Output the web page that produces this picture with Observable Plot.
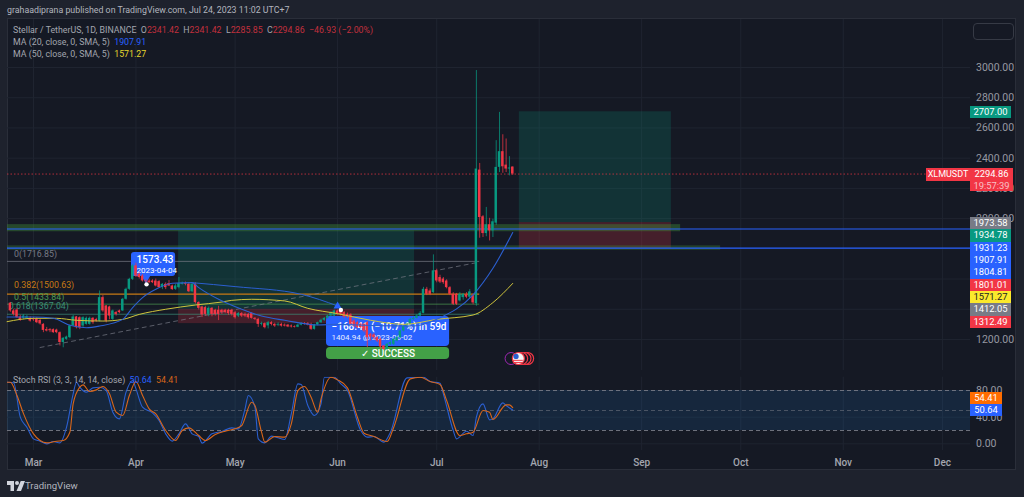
<!DOCTYPE html>
<html>
<head>
<meta charset="utf-8">
<script src="https://cdn.jsdelivr.net/npm/d3@7"></script>
<script src="https://cdn.jsdelivr.net/npm/@observablehq/plot@0.6"></script>
<style>
html,body{margin:0;padding:0;background:#1e222d;}
#page{position:relative;width:1024px;height:497px;overflow:hidden;background:#1e222d;font-family:Roboto,sans-serif;color:#a3a6af;}
#panel{position:absolute;left:7px;top:18px;width:1009px;height:452px;background:#151924;border:1px solid #2a2e39;box-sizing:border-box;}
#main,#stoch{position:absolute;left:0;}
#main{top:0;}#stoch{top:370px;}
.t{position:absolute;white-space:nowrap;}
.r{color:#c2303d}
.tag{position:absolute;left:970px;width:41px;height:12.35px;line-height:12.35px;text-align:center;font-size:9.4px;color:#fff;}
</style>
</head>
<body>
<div id="page">
<div id="panel"></div>
<div id="main"></div>
<div id="stoch"></div>
<div class="t" style="left:7px;top:5px;font-size:8.8px;color:#b2b5be">grahaadiprana published on TradingView.com, Jul 24, 2023 11:02 UTC+7</div>
<div class="t" style="left:13px;top:25px;font-size:8.8px">Stellar / TetherUS, 1D, BINANCE &nbsp;O<span class="r">2341.42</span> &nbsp;H<span class="r">2341.42</span> &nbsp;L<span class="r">2285.85</span> &nbsp;C<span class="r">2294.86</span> &nbsp;<span class="r">−46.93 (−2.00%)</span></div>
<div class="t" style="left:13px;top:37px;font-size:8.8px">MA (20, close, 0, SMA, 5) &nbsp;<span style="color:#2962ff">1907.91</span></div>
<div class="t" style="left:13px;top:49px;font-size:8.8px">MA (50, close, 0, SMA, 5) &nbsp;<span style="color:#e5d82e">1571.27</span></div>
<div class="t" style="left:13px;top:375px;font-size:8.8px">Stoch RSI (3, 3, 14, 14, close) &nbsp;<span style="color:#2962ff">50.64</span> &nbsp;<span style="color:#d9661a">54.41</span></div>
<div style="position:absolute;left:973px;top:23px;width:41px;height:17px;border:1px solid #363a45;border-radius:4px;box-sizing:border-box;"></div>
<div id="tags"></div>
<div class="t" style="left:926px;top:168px;width:44px;height:13px;line-height:13px;background:#f23645;color:#fff;font-size:9px;text-align:center;">XLMUSDT</div>
<div class="tag" style="top:168px;background:#f23645;height:23px;width:43px;line-height:11.5px;">2294.86<br><span style="color:#f8c0c5;">19:57:39</span></div>
<div class="tag" style="top:106px;background:#089981;">2707.00</div>
<div class="tag" style="top:392px;width:32px;height:12px;line-height:12px;background:#ff6d00;">54.41</div>
<div class="tag" style="top:404px;width:32px;height:12px;line-height:12px;background:#2962ff;">50.64</div>
<svg style="position:absolute;left:7px;top:480px" width="18" height="12" viewBox="0 0 36 24"><path fill="#d1d4dc" d="M14 2H0v8h7v12h7zM28 22H19L27.500 2H36z"/><circle cx="20" cy="6" r="4" fill="#d1d4dc"/></svg>
<div class="t" style="left:25px;top:480px;font-size:9.6px;color:#b2b5be">TradingView</div>
</div>
<script>
// Daily candles from 2023-02-22 to 2023-07-24
const opens = [1440,1389,1395,1349,1340,1340,1340,1335,1335,1326,1300,1265,1265,1265,1262,1245,1180,1201,1212,1290,1349,1344,1289,1300,1300,1340,1332,1322,1477,1422,1415,1333,1378,1389,1389,1466,1532,1598,1687,1632,1620,1587,1587,1587,1587,1583,1543,1565,1570,1554,1532,1543,1565,1570,1565,1516,1565,1444,1415,1411,1366,1406,1393,1393,1393,1393,1393,1393,1377,1355,1371,1366,1366,1371,1340,1333,1300,1305,1290,1311,1300,1295,1300,1295,1295,1289,1285,1281,1295,1305,1305,1300,1267,1296,1311,1327,1340,1355,1355,1389,1389,1378,1366,1363,1322,1311,1300,1300,1311,1234,1230,1212,1201,1157,1134,1168,1168,1190,1212,1256,1289,1300,1333,1340,1355,1373,1532,1521,1510,1654,1610,1600,1587,1543,1499,1499,1455,1477,1495,1480,1490,1437,2321,2012,1901,1959,1919,1970,2339,2443,2354,2328,2341.42];
const closes = [1389,1366,1344,1327,1355,1350,1322,1330,1311,1303,1260,1256,1258,1245,1245,1180,1208,1216,1290,1349,1278,1278,1344,1340,1340,1311,1322,1477,1389,1322,1355,1389,1366,1378,1466,1532,1598,1687,1620,1610,1587,1583,1576,1576,1554,1543,1565,1543,1554,1530,1554,1570,1570,1565,1516,1565,1444,1406,1362,1366,1406,1366,1366,1366,1378,1378,1371,1366,1344,1371,1355,1355,1344,1340,1333,1300,1305,1278,1311,1300,1289,1300,1289,1289,1283,1283,1281,1295,1305,1300,1296,1267,1296,1311,1327,1340,1355,1378,1389,1366,1366,1349,1349,1300,1289,1278,1278,1256,1212,1216,1212,1190,1150,1134,1168,1180,1201,1212,1256,1289,1300,1333,1340,1355,1373,1532,1499,1499,1654,1587,1580,1576,1543,1499,1433,1433,1499,1499,1480,1515,1442,2328,2007,1901,1959,1919,1979,2339,2443,2343,2328,2335,2294.86];
const highs = [1445,1400,1405,1360,1365,1360,1350,1345,1345,1335,1305,1280,1272,1270,1268,1250,1212,1222,1296,1360,1352,1350,1350,1348,1348,1345,1340,1521,1490,1425,1420,1395,1385,1395,1472,1540,1605,1695,1705,1640,1630,1595,1600,1595,1600,1590,1570,1575,1590,1560,1565,1610,1580,1580,1575,1575,1575,1450,1420,1420,1415,1412,1400,1420,1400,1400,1400,1400,1385,1378,1378,1375,1372,1378,1345,1340,1315,1310,1320,1318,1308,1310,1308,1303,1300,1296,1290,1302,1312,1312,1312,1308,1300,1315,1335,1345,1360,1385,1395,1395,1405,1385,1375,1370,1330,1320,1308,1305,1318,1240,1238,1218,1208,1160,1175,1190,1205,1218,1260,1295,1308,1340,1350,1365,1385,1545,1545,1535,1760,1665,1625,1610,1595,1550,1510,1505,1510,1505,1510,1530,1500,2980,2365,2020,2074,2002,1996,2516,2703,2555,2527,2410,2341.42];
const lows = [1380,1355,1340,1320,1330,1335,1315,1320,1305,1295,1245,1250,1245,1240,1238,1157,1145,1195,1205,1285,1270,1265,1280,1295,1295,1300,1315,1316,1380,1310,1330,1325,1355,1370,1385,1460,1525,1590,1610,1600,1580,1573,1570,1570,1548,1538,1530,1530,1550,1525,1525,1535,1560,1555,1510,1510,1435,1395,1345,1355,1350,1350,1355,1325,1365,1370,1360,1355,1335,1345,1345,1345,1335,1335,1325,1280,1290,1270,1270,1290,1280,1285,1282,1283,1278,1276,1276,1278,1290,1295,1290,1260,1262,1290,1305,1320,1335,1350,1350,1360,1355,1340,1340,1290,1280,1270,1272,1245,1146,1190,1195,1180,1135,1128,1128,1160,1160,1185,1205,1250,1280,1295,1325,1335,1350,1370,1490,1490,1505,1575,1570,1565,1535,1490,1425,1425,1448,1460,1470,1470,1430,1420,1870,1875,1880,1852,1875,1955,2305,2300,2305,2283,2285.85];

const ma20Days = [-1,7,13,18,23,27,34,37,40,44,49,55,57,63,70,76,83,93,99,110,122,130,140,146,152];
const ma20Values = [1349,1349,1340,1294,1278,1289,1333,1411,1477,1532,1572,1576,1543,1466,1400,1355,1327,1296,1300,1292,1289,1344,1495,1671,1907.91];
const ma50Days = [-1,7,14,20,28,34,39,47,56,64,67,73,83,90,99,109,119,129,140,146,152];
const ma50Values = [1318,1340,1340,1327,1322,1333,1366,1400,1428,1448,1459,1466,1455,1406,1371,1327,1300,1333,1362,1444,1571.27];

const stochKDays = [-1,1,3,5,7,9,11,13,15,17,19,20,21,23,25,27,29,31,33,35,37,38,40,43,45,47,49,51,53,55,57,58,61,64,67,69,71,72,74,75,77,79,83,85,87,88,90,92,94,95,98,100,102,106,108,110,113,115,120,125,127,130,131,134,135,138,140,141,143,145,146,149,150,152];
const stochK = [92.5,91.5,40,25,7.5,4,0,3.5,1.5,25,75,92.5,85,77.5,84,85,80,47.5,37.5,77.5,95,82.5,55,46.5,35,15,4,15,30,15,11,1,15,18.5,24,22.5,52.5,72.5,55,7.5,1.5,11.5,6.5,45,90,89,57.5,42.5,60,100,100,90,80,20,10,11,2.5,17.5,99,100,93.5,91,75,20,7.5,19,12.5,40,60,36,37.5,61.5,57.5,50.64];
const stochDDays = [-1,0,2,4,7,9,11,14,16,18,19,21,22,24,26,28,30,32,34,36,38,40,42,44,47,50,52,54,57,59,62,65,68,70,73,74,76,77,80,83,85,87,89,91,93,94,97,99,102,105,107,110,114,116,121,124,127,130,132,136,138,140,143,145,146,150,151,152];
const stochD = [92.5,92.5,72.5,45,15,5,1.5,4,5,17.5,60,85,88.5,78.5,81,86,75,47.5,42.5,72.5,93.5,72.5,52.5,45,20,5,20,24,12.5,5,14,19,22.5,27.5,62.5,57.5,17.5,2.5,11,10,30,80,86,70,47.5,67.5,100,96,84,40,16,11,3.5,25,97.5,100,93.5,89,65,12.5,15,17.5,50,47.5,36.5,58.5,58.5,54.41];

const priceGrid = [3000,2800,2600,2400,2200,2000,1800,1600,1400,1200];
const priceTicks = [3000,2800,2600,2400,2200,2000,1200];
const stochTicks = [80,40,0];
const months = ["2023-03-01","2023-04-01","2023-05-01","2023-06-01","2023-07-01","2023-08-01","2023-09-01","2023-10-01","2023-11-01","2023-12-01"];
const tagValues = ["1973.58","1934.78","1931.23","1907.91","1804.81","1801.01","1571.27","1412.05","1312.49"];
const tagColors = ["#787b86","#089981","#2962ff","#2962ff","#2962ff","#f23645","#fbe92c","#787b86","#f23645"];

const fibLabels = ["0(1716.85)","0.382(1500.63)","0.5(1433.84)","0.618(1367.04)"];
const fibPrices = [1716.85,1500.63,1433.84,1367.04];
const fibColors = ["#787b86","#c77a14","#4c9a50","#3b8f78"];
const fibLabelDays = [1.1,1.1,1.1,-0.5];
const fibLabelPrices = [1765,1557,1483,1420];

const F = "Roboto, sans-serif";
const day = i => new Date(Date.UTC(2023,1,22) + i*864e5);
const xDomain = [day(-0.867), day(290.5)];
const GREEN = "#089981", RED = "#f23645", BLUE = "#2962ff", YEL = "#cfc43c";
const candles = closes.map((c,i)=>({i,o:opens[i],c,h:highs[i],l:lows[i],col:c>=opens[i]?GREEN:RED}));
const ma20 = ma20Days.map((d,k)=>({d:day(d),v:ma20Values[k]}));
const ma50 = ma50Days.map((d,k)=>({d:day(d),v:ma50Values[k]}));
const arrowPath = [[55,1576],[68,1550],[88,1499],[99,1422]].map(([d,v])=>({d:day(d),v}));
const trend = [[9,1147],[141.2,1709]].map(([d,v])=>({d:day(d),v}));
const monthDates = months.map(m=>new Date(m));

const hline = (v,stroke,opt={}) => Plot.ruleY([v],{x1:day(-0.867),x2:opt.to??day(290.5),stroke,strokeWidth:opt.w??1,strokeDasharray:opt.dash,strokeOpacity:opt.op??1});
const box = (a,b,p,q,fill,op=1,rx=0) => Plot.rect([0],{x1:day(a),x2:day(b),y1:p,y2:q,fill,fillOpacity:op,rx});
const label = (txt,d,p,size,fill,weight=400,anchor="start") => Plot.text([txt],{x:day(d),y:p,text:d=>d,fontSize:size,fill,fontWeight:weight,textAnchor:anchor,fontFamily:F});

const main = Plot.plot({
  width:1024,height:370,marginLeft:7,marginRight:54,marginTop:19,marginBottom:0,
  style:{background:"transparent",overflow:"visible"},
  x:{type:"utc",domain:xDomain,axis:null},
  y:{type:"linear",domain:[994.7,3317.7],axis:null},
  marks:[
    Plot.gridX(monthDates,{stroke:"#1f2430",strokeOpacity:1}),
    Plot.gridY(priceGrid,{stroke:"#1f2430",strokeOpacity:1}),
    // position tools
    box(50.9,122.3,1919,1400,GREEN,.2),
    box(50.9,122.3,1400,1305,RED,.22),
    box(154,200,2707,1973.58,GREEN,.2),
    box(154,200,1973.58,1801.01,RED,.22),
    // zones
    box(-0.867,202.8,1960,1913,"#3f8a3a",.42),
    box(-0.867,214.9,1820,1790,"#3f8a3a",.35),
    // fib
    ...fibPrices.map((p,k)=>Plot.ruleY([p],{x1:day(-0.867),x2:day(142),stroke:fibColors[k],strokeWidth:k==1?1.2:1,strokeOpacity:k==1?1:.7})),
    ...fibLabels.map((t,k)=>label(t,fibLabelDays[k],fibLabelPrices[k],8.8,fibColors[k])),
    hline(1931.23,BLUE,{w:1.2}),
    hline(1804.81,BLUE,{w:1.4}),
    hline(2294.86,RED,{dash:"1.5 2",op:.7}),
    Plot.line(trend,{x:"d",y:"v",stroke:"#787b86",strokeDasharray:"4 4",strokeWidth:1,strokeOpacity:.7}),
    // callout boxes under candles
    box(36.65,50,1776,1617,BLUE,1,3),
    Plot.dot([0],{x:day(41),y:1616,r:4.5,symbol:"triangle",rotate:180,fill:BLUE}),
    label("1573.43",38.2,1729,10,"#fff",500),
    label("2023-04-04",38.2,1660,8,"#fff"),
    box(95.65,132.9,1352,1153.5,BLUE,1,4),
    label("−168.41 (−10.71%) in 59d",97.2,1286,10,"#fff",500),
    label("1404.94 @ 2023-06-02",97.2,1214,8,"#e6ebff"),
    box(95.65,132.9,1147,1067,"#43a047",1,4),
    label("✓ SUCCESS",114.3,1105,10,"#fff",500,"middle"),
    // candles
    Plot.ruleX(candles,{x:d=>day(d.i),y1:"l",y2:"h",stroke:"col",strokeWidth:1,strokeOpacity:.75}),
    Plot.rect(candles,{x1:d=>day(d.i-.37),x2:d=>day(d.i+.37),y1:d=>d.o,y2:d=>d.c,fill:"col"}),
    // MAs
    Plot.line(ma50,{x:"d",y:"v",stroke:YEL,strokeWidth:1,curve:"monotone-x"}),
    Plot.line(ma20,{x:"d",y:"v",stroke:"#2b5fd0",strokeWidth:1.1,curve:"monotone-x"}),
    Plot.line(arrowPath,{x:"d",y:"v",stroke:"#2b5fd0",strokeWidth:1,curve:"monotone-x"}),
    Plot.dot([0],{x:day(99),y:1420,r:3,symbol:"triangle",rotate:120,fill:BLUE}),
    Plot.dot([0],{x:day(41.2),y:1565,r:2.2,fill:"#fff"}),
    Plot.dot([0],{x:day(100),y:1395,r:2.2,fill:"#fff"}),
    // event flags
    Plot.dot([0],{x:day(151.5),y:1074,r:6,stroke:"#9c27b0",strokeWidth:1,fill:"none"}),
    ...[156.5,155.7,154.7].map(d=>Plot.dot([0],{x:day(d),y:1074,r:6,stroke:RED,strokeWidth:1.2,fill:"#151924"})),
    Plot.dot([0],{x:day(153.7),y:1074,r:6,stroke:RED,strokeWidth:1.2,fill:"#f4f4f4"}),
    Plot.dot([0],{x:day(153),y:1088,r:2.6,fill:"#2b5fd0"}),
    Plot.ruleY([1062,1048],{x1:day(152.2),x2:day(155.2),stroke:RED,strokeWidth:1}),
    Plot.axisY(priceTicks,{anchor:"right",tickSize:0,tickPadding:5.5,tickFormat:d=>d3.format(".2f")(d),fontSize:10.5,fill:"#9598a1",color:"#9598a1",fontFamily:F,label:null})
  ]
});
document.getElementById("main").appendChild(main);

const kLine = stochKDays.map((d,k)=>({d:day(d),v:stochK[k]}));
const dLine = stochDDays.map((d,k)=>({d:day(d),v:stochD[k]}));
const stoch = Plot.plot({
  width:1024,height:100,marginLeft:7,marginRight:54,marginTop:6.7,marginBottom:20,
  style:{background:"transparent",overflow:"visible"},
  x:{type:"utc",domain:xDomain,axis:null},
  y:{type:"linear",domain:[-10,100],axis:null},
  marks:[
    Plot.gridX(monthDates,{stroke:"#1f2430",strokeOpacity:1}),
    Plot.gridY(stochTicks,{stroke:"#1f2430",strokeOpacity:1}),
    Plot.rect([0],{x1:xDomain[0],x2:xDomain[1],y1:20,y2:80,fill:"#1e88e5",fillOpacity:.13}),
    Plot.ruleY([80,20],{x1:xDomain[0],x2:xDomain[1],stroke:"#787b86",strokeDasharray:"4 3",strokeWidth:1,strokeOpacity:.9}),
    Plot.ruleY([50],{x1:xDomain[0],x2:xDomain[1],stroke:"#787b86",strokeDasharray:"4 3",strokeWidth:1,strokeOpacity:.55}),
    Plot.line(kLine,{x:"d",y:"v",stroke:"#2b5fd0",strokeWidth:1.1,curve:"monotone-x",clip:true}),
    Plot.line(dLine,{x:"d",y:"v",stroke:"#d9661a",strokeWidth:1.1,curve:"monotone-x",clip:true}),
    Plot.axisY(stochTicks,{anchor:"right",tickSize:0,tickPadding:5.5,tickFormat:d=>d3.format(".2f")(d),fontSize:10.5,fill:"#9598a1",color:"#9598a1",fontFamily:F,label:null}),
    Plot.axisX(monthDates,{anchor:"bottom",tickSize:0,tickPadding:8,tickFormat:d3.utcFormat("%b"),fontSize:10,fontWeight:500,fill:"#a3a6af",color:"#a3a6af",fontFamily:F,label:null})
  ]
});
document.getElementById("stoch").appendChild(stoch);

const tags = document.getElementById("tags");
tagValues.forEach((v,k)=>{
  const el=document.createElement("div");
  el.className="tag";
  el.textContent=v;
  el.style.top=(217+k*12.35)+"px";
  el.style.background=tagColors[k];
  if(tagColors[k]==="#fbe92c") el.style.color="#222";
  tags.appendChild(el);
});
</script>
</body>
</html>
